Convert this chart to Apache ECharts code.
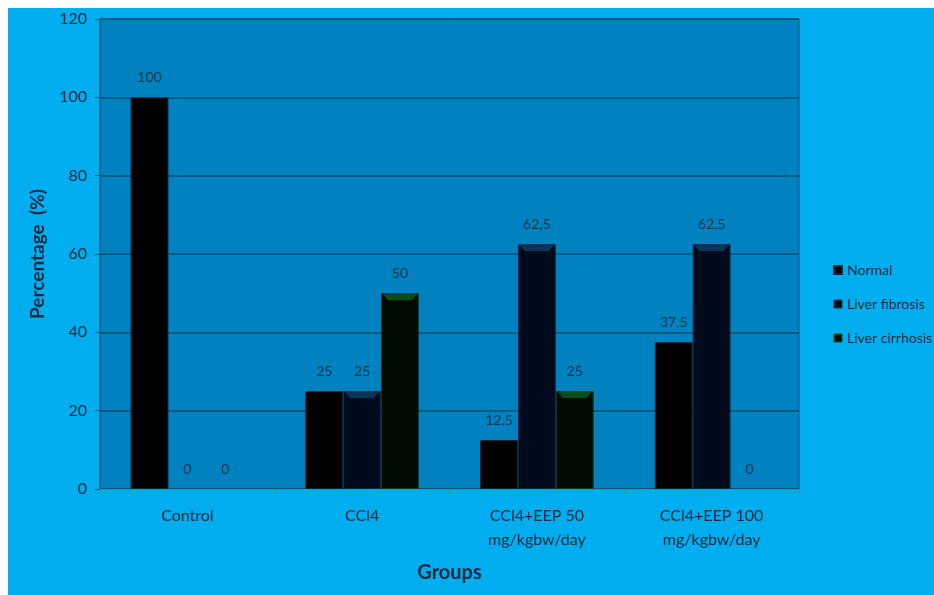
<!DOCTYPE html>
<html>
<head>
<meta charset="utf-8">
<script src="https://cdn.jsdelivr.net/npm/echarts@6/dist/echarts.min.js"></script>
<style>
  html, body { margin: 0; padding: 0; background: #ffffff; }
  #chart { position: absolute; left: 8px; top: 8px; width: 926px; height: 587px; background: #00adef; }
</style>
</head>
<body>
<div id="chart"></div>
<script>
// Outcome of liver histology per treatment group (% of animals)
const groups = ['Control', 'CCl4', 'CCl4+EEP 50\nmg/kgbw/day', 'CCl4+EEP 100\nmg/kgbw/day'];
const normal = [100, 25, 12.5, 37.5];
const fibrosis = [0, 25, 62.5, 62.5];
const cirrhosis = [0, 50, 25, 0];
const yTicks = [0, 20, 40, 60, 80, 100, 120];

const textColor = '#0b2a3c';
const fontFamily = 'Lato, "Open Sans", sans-serif';

const chart = echarts.init(document.getElementById('chart'));

const valueLabel = {
  show: true,
  position: 'top',
  distance: 13,
  color: '#123447',
  fontSize: 14,
  fontFamily: fontFamily,
  formatter: p => String(p.value).replace('.', ',')
};

function barSeries(name, data, color, border) {
  return {
    name: name,
    type: 'bar',
    // zero-height bars get no outline so nothing shows at the baseline
    data: data.map(v => (v === 0 ? { value: v, itemStyle: { borderWidth: 0 } } : v)),
    itemStyle: { color: color, borderColor: border, borderWidth: 1 },
    label: valueLabel,
    emphasis: { disabled: true }
  };
}

// bevel highlight drawn on top of each bar of a given series slot
function capSeries(data, slot, color) {
  return {
    type: 'custom',
    silent: true,
    z: 3,
    data: data.map((v, i) => [i, v]),
    renderItem: function (params, api) {
      const v = api.value(1);
      if (!v) return null;
      const band = api.size([1, 0])[0];
      const bw = band * 0.65 / 3;
      const top = api.coord([api.value(0), v]);
      const x0 = top[0] - band * 0.65 / 2 + slot * bw;
      const inset = 5;
      return {
        type: 'polygon',
        shape: {
          points: [
            [x0 + 2, top[1] + 1],
            [x0 + bw - 2, top[1] + 1],
            [x0 + bw - 2 - inset, top[1] + 7],
            [x0 + 2 + inset, top[1] + 7]
          ]
        },
        style: { fill: color, opacity: 0.85 }
      };
    }
  };
}

chart.setOption({
  animation: false,
  backgroundColor: '#00adef',
  grid: { left: 92, right: 135, top: 11, bottom: 106, containLabel: false, show: true, backgroundColor: '#0082c0', borderColor: '#0a5878', borderWidth: 1 },
  legend: {
    orient: 'vertical',
    left: 820,
    top: 250,
    itemWidth: 8,
    itemHeight: 8,
    itemGap: 20,
    icon: 'rect',
    textStyle: { color: textColor, fontSize: 14, fontFamily: fontFamily },
    data: [
      { name: 'Normal', itemStyle: { color: '#000000' } },
      { name: 'Liver fibrosis', itemStyle: { color: '#000a1e', borderColor: '#0c3450', borderWidth: 1 } },
      { name: 'Liver cirrhosis', itemStyle: { color: '#010d03', borderColor: '#0f5a20', borderWidth: 1 } }
    ]
  },
  xAxis: {
    type: 'category',
    data: groups,
    name: 'Groups',
    nameLocation: 'middle',
    nameGap: 74,
    nameTextStyle: { color: textColor, fontSize: 20, fontWeight: 'bold', fontFamily: fontFamily },
    axisLine: { lineStyle: { color: '#4f87a3', width: 1 } },
    axisTick: { show: true, length: 5, lineStyle: { color: '#4f87a3' } },
    axisLabel: { color: textColor, fontSize: 16, fontFamily: fontFamily, margin: 15, lineHeight: 24, interval: 0 }
  },
  yAxis: {
    type: 'value',
    min: 0,
    max: 120,
    interval: 20,
    name: 'Percentage  (%)',
    nameLocation: 'middle',
    nameGap: 53,
    nameTextStyle: { color: textColor, fontSize: 19, fontWeight: 'bold', fontFamily: fontFamily },
    axisLine: { show: true, lineStyle: { color: '#0d5a7a', width: 1 } },
    axisTick: { show: true, length: 5, lineStyle: { color: '#0d5a7a' } },
    axisLabel: {
      color: textColor, fontSize: 16, fontFamily: fontFamily, margin: 13,
      formatter: v => (yTicks.includes(v) ? String(v) : '')
    },
    splitLine: { show: true, lineStyle: { color: '#0b4f6c', width: 1.5 } }
  },
  series: [
    Object.assign(barSeries('Normal', normal, '#010101', '#062a3a'), { barGap: '0%', barCategoryGap: '35%' }),
    barSeries('Liver fibrosis', fibrosis, '#000a1d', '#0a2c44'),
    barSeries('Liver cirrhosis', cirrhosis, '#000a02', '#093a24'),
    capSeries(fibrosis, 1, '#0b3e63'),
    capSeries(cirrhosis, 2, '#0c5a1c')
  ]
});
</script>
</body>
</html>
